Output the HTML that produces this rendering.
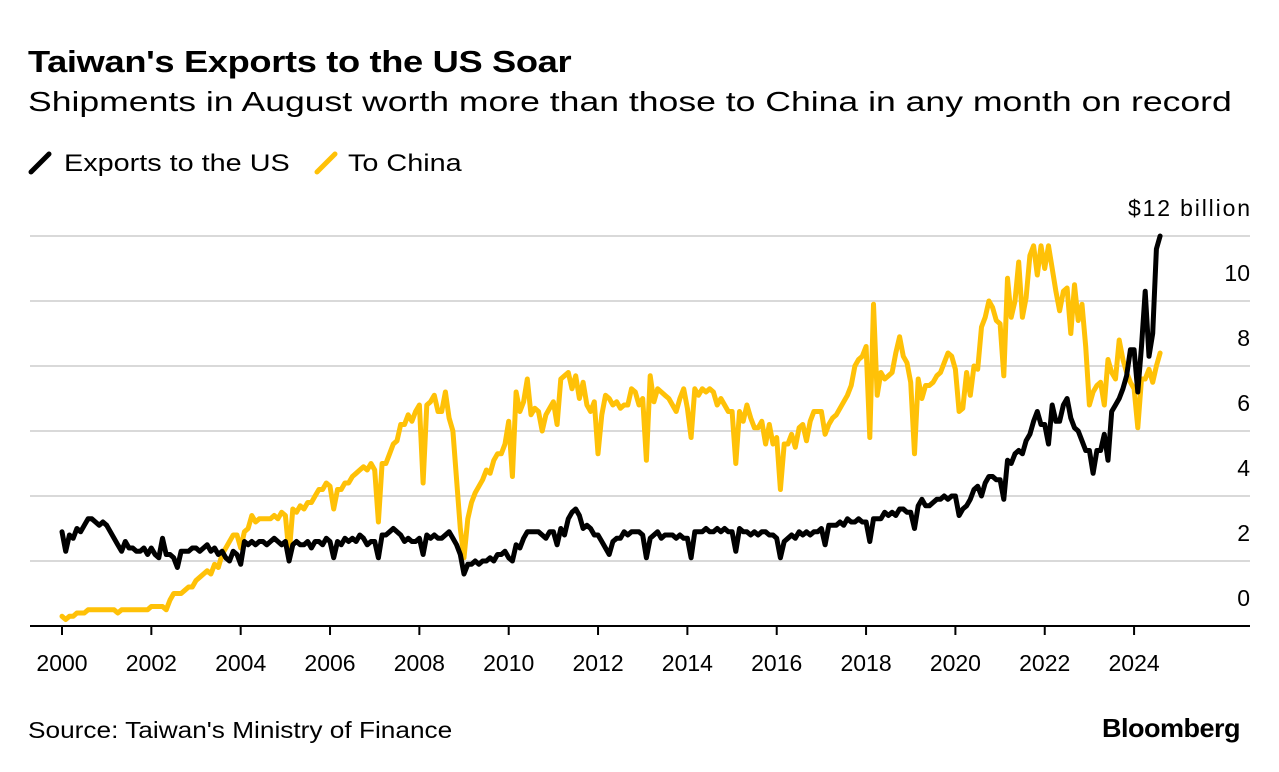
<!DOCTYPE html>
<html><head><meta charset="utf-8"><style>
body{margin:0;width:1279px;height:772px;background:#fff;font-family:"Liberation Sans",Arial,sans-serif;overflow:hidden;position:relative}
.t{position:absolute;white-space:nowrap;color:#000;transform-origin:0 0}
</style></head><body>
<div class="t" style="left:28px;top:44px;font-size:31px;font-weight:bold;letter-spacing:-0.3px;transform:scaleX(1.17)">Taiwan's Exports to the US Soar</div>
<div class="t" style="left:28px;top:86px;font-size:28px;transform:scaleX(1.27)">Shipments in August worth more than those to China in any month on record</div>
<div class="t" style="left:28px;top:150px;font-size:24px"><svg width="24" height="24" style="vertical-align:-4px;margin-right:12px"><line x1="3" y1="21" x2="21" y2="3" stroke="#000" stroke-width="5" stroke-linecap="round"/></svg><span style="display:inline-block;transform:scaleX(1.2);transform-origin:0 0">Exports to the US</span></div>
<div class="t" style="left:314px;top:150px;font-size:24px"><svg width="24" height="24" style="vertical-align:-4px;margin-right:10px"><line x1="3" y1="21" x2="21" y2="3" stroke="#ffc107" stroke-width="5" stroke-linecap="round"/></svg><span style="display:inline-block;transform:scaleX(1.2);transform-origin:0 0">To China</span></div>
<svg id="chart" width="1279" height="772" style="position:absolute;left:0;top:0"></svg>
<div class="t" style="left:28px;top:717px;font-size:23px;transform:scaleX(1.14)">Source: Taiwan's Ministry of Finance</div>
<div class="t" style="left:1102px;top:713px;font-size:26px;font-weight:bold;letter-spacing:-0.5px;transform:scaleX(1.04)">Bloomberg</div>
<script>
const startYear=2000;
const yTicks=[0,2,4,6,8,10,12];
const xTickYears=[2000,2002,2004,2006,2008,2010,2012,2014,2016,2018,2020,2022,2024];
const usExports=[
2.9,2.3,2.8,2.7,3.0,2.9,3.1,3.3,3.3,3.2,3.1,3.2,
3.1,2.9,2.7,2.5,2.3,2.6,2.4,2.4,2.3,2.3,2.4,2.2,
2.4,2.2,2.1,2.7,2.2,2.2,2.1,1.8,2.3,2.3,2.3,2.4,
2.4,2.3,2.4,2.5,2.3,2.4,2.2,2.3,2.1,2.0,2.3,2.2,
1.9,2.6,2.5,2.6,2.5,2.6,2.6,2.5,2.6,2.7,2.6,2.5,
2.6,2.0,2.5,2.6,2.5,2.5,2.6,2.4,2.6,2.6,2.5,2.7,
2.6,2.1,2.6,2.5,2.7,2.6,2.7,2.6,2.8,2.7,2.5,2.6,
2.6,2.1,2.8,2.8,2.9,3.0,2.9,2.8,2.6,2.7,2.6,2.6,
2.7,2.2,2.8,2.7,2.8,2.7,2.7,2.8,2.9,2.7,2.5,2.2,
1.6,1.9,1.9,2.0,1.9,2.0,2.0,2.1,2.0,2.2,2.2,2.3,
2.1,2.0,2.5,2.4,2.7,2.9,2.9,2.9,2.9,2.8,2.7,2.9,
2.9,2.5,3.0,2.8,3.3,3.5,3.6,3.4,3.0,3.1,3.0,2.8,
2.8,2.6,2.4,2.2,2.6,2.7,2.7,2.9,2.8,2.9,2.9,2.9,
2.8,2.1,2.7,2.8,2.9,2.7,2.8,2.8,2.8,2.7,2.8,2.7,
2.7,2.1,2.9,2.9,2.9,3.0,2.9,2.9,3.0,2.9,3.0,2.9,
2.9,2.3,3.0,2.9,2.9,2.8,2.9,2.8,2.9,2.9,2.8,2.8,
2.7,2.1,2.6,2.7,2.8,2.7,2.9,2.8,2.9,2.8,2.9,2.9,
3.0,2.5,3.1,3.1,3.1,3.2,3.1,3.3,3.2,3.2,3.3,3.2,
3.2,2.6,3.3,3.3,3.3,3.5,3.4,3.5,3.4,3.6,3.6,3.5,
3.5,3.0,3.7,3.9,3.7,3.7,3.8,3.9,3.9,4.0,3.9,4.0,
4.0,3.4,3.6,3.7,3.9,4.2,4.3,4.0,4.4,4.6,4.6,4.5,
4.5,3.9,5.1,5.0,5.3,5.4,5.3,5.7,5.9,6.3,6.6,6.2,
6.2,5.6,6.8,6.3,6.3,6.8,7.0,6.4,6.1,6.0,5.7,5.4,
5.4,4.7,5.4,5.4,5.9,5.1,6.6,6.8,7.0,7.3,7.7,8.5,
8.5,7.2,8.6,10.3,8.3,9.0,11.6,12.0];
const chinaExports=[
0.3,0.2,0.3,0.3,0.4,0.4,0.4,0.5,0.5,0.5,0.5,0.5,
0.5,0.5,0.5,0.4,0.5,0.5,0.5,0.5,0.5,0.5,0.5,0.5,
0.6,0.6,0.6,0.6,0.5,0.8,1.0,1.0,1.0,1.1,1.2,1.2,
1.4,1.5,1.6,1.7,1.6,1.9,1.8,2.2,2.4,2.6,2.8,2.8,
2.4,2.9,3.0,3.4,3.2,3.3,3.3,3.3,3.3,3.4,3.3,3.5,
3.4,2.2,3.6,3.5,3.7,3.6,3.8,3.8,4.0,4.2,4.2,4.4,
4.3,3.6,4.2,4.2,4.4,4.4,4.6,4.7,4.8,4.9,4.8,5.0,
4.8,3.2,5.0,5.0,5.3,5.6,5.7,6.2,6.2,6.5,6.3,6.6,
6.8,4.4,6.8,6.9,7.1,6.6,6.6,7.2,6.4,6.0,4.5,3.0,
2.1,3.3,3.8,4.1,4.3,4.5,4.8,4.7,5.1,5.3,5.3,5.6,
6.3,4.6,7.2,6.6,6.9,7.6,6.5,6.7,6.6,6.0,6.5,6.7,
6.9,6.2,7.6,7.7,7.8,7.3,7.7,7.0,7.5,6.8,6.6,6.9,
5.3,6.5,7.1,7.0,6.8,6.9,6.7,6.8,6.8,7.3,7.2,6.8,
7.0,5.1,7.7,6.9,7.3,7.2,7.1,7.0,6.8,6.6,7.0,7.3,
6.7,5.8,7.3,7.1,7.3,7.2,7.3,7.2,6.8,7.0,6.8,6.6,
6.6,5.0,6.6,6.3,6.8,6.4,6.1,6.1,6.3,5.6,6.2,5.6,
5.8,4.2,5.6,5.6,5.9,5.5,6.1,6.2,5.7,6.3,6.6,6.6,
6.6,5.9,6.2,6.4,6.5,6.7,6.9,7.1,7.4,8.0,8.2,8.3,
8.6,5.8,9.9,7.1,7.8,7.6,7.7,7.8,8.4,8.9,8.3,8.1,
7.5,5.3,7.6,7.0,7.4,7.4,7.5,7.7,7.8,8.1,8.4,8.3,
7.9,6.6,6.7,7.8,7.1,8.0,7.9,9.2,9.5,10.0,9.8,9.4,
9.3,7.7,10.7,9.5,10.0,11.2,9.5,10.1,11.4,11.7,10.8,11.7,
11.0,11.7,11.0,10.3,9.7,10.3,10.4,9.0,10.5,9.4,9.9,8.6,
6.8,7.2,7.4,7.5,6.8,8.2,7.8,7.6,8.8,8.2,7.8,7.5,
7.3,6.1,7.6,7.6,7.9,7.5,8.0,8.4];
const NS='http://www.w3.org/2000/svg';
const svg=document.getElementById('chart');
const x0=62,pxPerYear=44.67,yBase=626,pxPerUnit=32.5;
function xScale(m){return x0+(m/12)*pxPerYear;}
function yScale(v){return yBase-v*pxPerUnit;}
function mk(tag,attrs){const e=document.createElementNS(NS,tag);for(const k in attrs)e.setAttribute(k,attrs[k]);svg.appendChild(e);return e;}
yTicks.forEach(v=>{
  if(v>0){const g=mk('line',{x1:30,x2:1250,y1:yScale(v),y2:yScale(v),stroke:'#d9d9d9','stroke-width':2});
  
  }
  const t=mk('text',{x:1250,y:yScale(v)-20,'text-anchor':'end','font-size':23,'font-family':'Liberation Sans, sans-serif',fill:'#000'});
  t.textContent=v===12?'$12 billion':String(v);
  if(v===12)t.setAttribute('textLength','122');
  
  
});
const ax=mk('line',{x1:30,x2:1250,y1:yBase,y2:yBase,stroke:'#000','stroke-width':2});


xTickYears.forEach(yr=>{
  const x=xScale((yr-startYear)*12);
  const tk=mk('line',{x1:x,x2:x,y1:yBase,y2:yBase+9,stroke:'#000','stroke-width':2});
  
  
  const t=mk('text',{x:x,y:671,'text-anchor':'middle','font-size':23,'font-family':'Liberation Sans, sans-serif',fill:'#000'});
  t.textContent=String(yr);
  
  
});
function drawLine(data,color,name){
  const pts=data.map((v,i)=>xScale(i).toFixed(1)+','+yScale(v).toFixed(1)).join(' ');
  const p=mk('polyline',{points:pts,fill:'none',stroke:color,'stroke-width':5,'stroke-linejoin':'round','stroke-linecap':'round'});
  
  
}
drawLine(chinaExports,'#ffc107','china-exports-line');
drawLine(usExports,'#000000','us-exports-line');
</script>
</body></html>
